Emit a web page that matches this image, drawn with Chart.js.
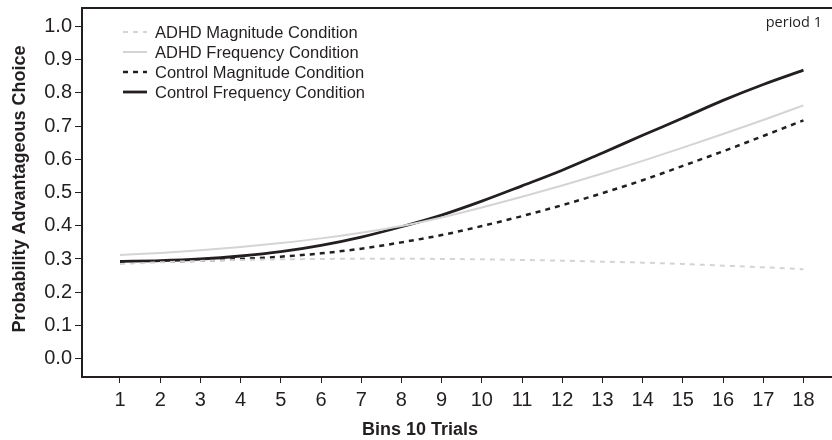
<!DOCTYPE html>
<html lang="en-US">
<head>
  <meta charset="UTF-8">
  <title>Probability Advantageous Choice - period 1</title>
  <script src="https://cdn.jsdelivr.net/npm/chart.js@4.4.1/dist/chart.umd.min.js"></script>
  <style>
    html, body { margin: 0; padding: 0; background: #fff; }
    #wrap { width: 832px; height: 440px; }
  </style>
</head>
<body>
  <div id="wrap"><canvas id="myChart" width="832" height="440"></canvas></div>

  <script>
  // bins and tick labels
  var bins = [1, 2, 3, 4, 5, 6, 7, 8, 9, 10, 11, 12, 13, 14, 15, 16, 17, 18];
  var yTicks = [0.0, 0.1, 0.2, 0.3, 0.4, 0.5, 0.6, 0.7, 0.8, 0.9, 1.0];

  // fitted curves
  var adhdMagnitude = [0.285, 0.290, 0.294, 0.297, 0.299, 0.300, 0.301, 0.301, 0.300, 0.299, 0.297, 0.295, 0.292, 0.289, 0.285, 0.280, 0.275, 0.269];
  var adhdFrequency = [0.312, 0.318, 0.326, 0.336, 0.348, 0.362, 0.379, 0.399, 0.425, 0.455, 0.487, 0.521, 0.557, 0.595, 0.635, 0.676, 0.718, 0.762];
  var controlMagnitude = [0.290, 0.292, 0.295, 0.300, 0.307, 0.317, 0.331, 0.350, 0.372, 0.399, 0.429, 0.462, 0.498, 0.537, 0.580, 0.624, 0.670, 0.717];
  var controlFrequency = [0.293, 0.295, 0.300, 0.309, 0.322, 0.341, 0.366, 0.397, 0.432, 0.474, 0.520, 0.567, 0.619, 0.672, 0.724, 0.777, 0.825, 0.868];

  var labels = ["ADHD Magnitude Condition", "ADHD Frequency Condition", "Control Magnitude Condition", "Control Frequency Condition"];
  var panelLabel = "period 1";
  var xTitle = "Bins 10 Trials";
  var yTitle = "Probability Advantageous Choice";

  var ink = "#231f20";
  var light = "#d4d4d4";
  var font = "'Liberation Sans', Arial, sans-serif";

  function points(arr) {
    return bins.map(function (b, i) { return { x: b, y: arr[i] }; });
  }

  // draws the top border, the legend, the panel label and the axis titles
  var extras = {
    id: "extras",
    afterDraw: function (chart) {
      var ctx = chart.ctx;
      var a = chart.chartArea;
      ctx.save();

      // top frame line
      ctx.strokeStyle = ink;
      ctx.lineWidth = 2;
      ctx.beginPath();
      ctx.moveTo(a.left - 1, a.top);
      ctx.lineTo(a.right, a.top);
      ctx.stroke();

      // legend
      ctx.font = "16.5px " + font;
      ctx.textBaseline = "middle";
      chart.data.datasets.forEach(function (ds, i) {
        var y = 32 + i * 20;
        ctx.strokeStyle = ds.borderColor;
        ctx.lineWidth = ds.borderWidth;
        ctx.setLineDash(ds.borderDash || []);
        ctx.beginPath();
        ctx.moveTo(123, y);
        ctx.lineTo(147, y);
        ctx.stroke();
        ctx.setLineDash([]);
        ctx.fillStyle = ink;
        ctx.textAlign = "left";
        ctx.fillText(ds.label, 155, y + 1);
      });

      // panel label
      ctx.font = "14.5px 'Open Sans', sans-serif";
      ctx.textAlign = "right";
      ctx.fillStyle = ink;
      ctx.fillText(panelLabel, 822, 23);

      // axis titles
      ctx.font = "bold 18px " + font;
      ctx.textAlign = "center";
      ctx.fillText(xTitle, 420, 430);
      ctx.translate(20, 189);
      ctx.rotate(-Math.PI / 2);
      ctx.fillText(yTitle, 0, 0);

      ctx.restore();
    }
  };

  var ctx = document.getElementById("myChart");
  var myChart = new Chart(ctx, {
    type: "line",
    data: {
      datasets: [{
        label: labels[0],
        data: points(adhdMagnitude),
        borderColor: light,
        borderWidth: 2,
        borderDash: [5, 5]
      }, {
        label: labels[1],
        data: points(adhdFrequency),
        borderColor: light,
        borderWidth: 2
      }, {
        label: labels[2],
        data: points(controlMagnitude),
        borderColor: ink,
        borderWidth: 2.5,
        borderDash: [5, 5]
      }, {
        label: labels[3],
        data: points(controlFrequency),
        borderColor: ink,
        borderWidth: 2.8
      }]
    },
    options: {
      responsive: false,
      animation: false,
      devicePixelRatio: 1,
      layout: { padding: { top: 8, right: 0, left: 0, bottom: 0 } },
      elements: {
        point: { radius: 0 },
        line: { cubicInterpolationMode: "monotone", fill: false }
      },
      plugins: {
        legend: { display: false },
        tooltip: { enabled: false }
      },
      scales: {
        x: {
          type: "linear",
          min: 0.055,
          max: 18.71,
          afterBuildTicks: function (scale) {
            scale.ticks = bins.map(function (v) { return { value: v }; });
          },
          afterFit: function (scale) {
            scale.height = 63;
            scale.paddingLeft = 0;
            scale.paddingRight = 0;
          },
          border: { display: true, color: ink, width: 2 },
          grid: { drawOnChartArea: false, drawTicks: true, tickLength: 6, color: ink, lineWidth: 1 },
          ticks: { color: ink, padding: 5, font: { family: font, size: 20 }, maxRotation: 0, autoSkip: false }
        },
        y: {
          min: -0.055,
          max: 1.055,
          afterBuildTicks: function (scale) {
            scale.ticks = yTicks.map(function (v) { return { value: v }; });
          },
          afterFit: function (scale) {
            scale.width = 82;
            scale.paddingTop = 0;
            scale.paddingBottom = 0;
          },
          border: { display: true, color: ink, width: 2 },
          grid: { drawOnChartArea: false, drawTicks: true, tickLength: 7, color: ink, lineWidth: 1 },
          ticks: {
            color: ink,
            padding: 3,
            font: { family: font, size: 20 },
            callback: function (v) { return Number(v).toFixed(1); }
          }
        }
      }
    },
    plugins: [extras]
  });
  </script>
</body>
</html>
